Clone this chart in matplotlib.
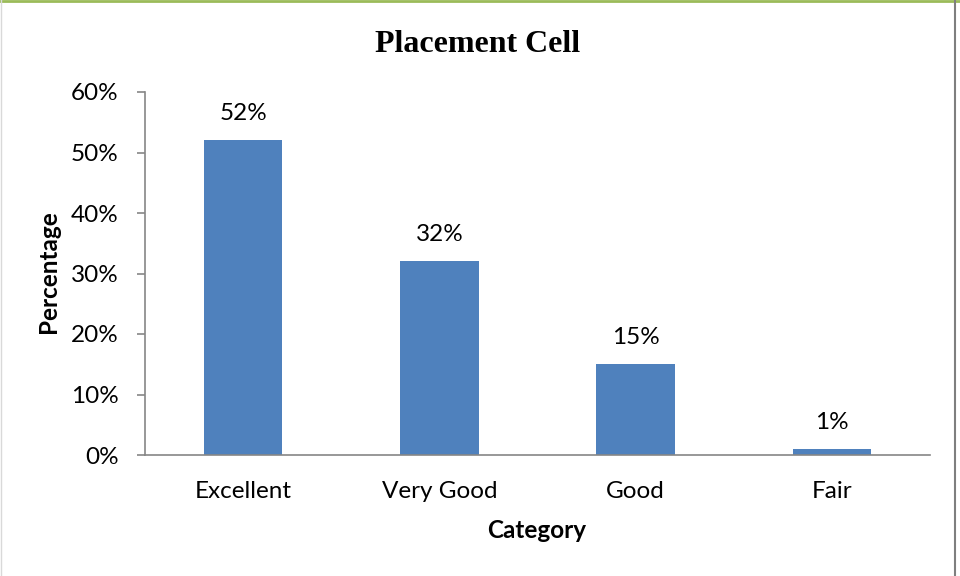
import matplotlib
matplotlib.use("Agg")
import matplotlib.pyplot as plt
from matplotlib.lines import Line2D

categories = ["Excellent", "Very Good", "Good", "Fair"]
values = [52, 32, 15, 1]
yticks = [0, 10, 20, 30, 40, 50, 60]
ytick_labels = [f"{v}%" for v in yticks]

FS = 17.5
fam = ["Lato", "DejaVu Sans"]

fig = plt.figure(figsize=(9.6, 5.76), dpi=100)
ax = fig.add_axes([145/960, 1-455/576, (930-145)/960, (455-92)/576])

x = list(range(len(categories)))
ax.bar(x, values, width=0.4, color="#4F81BD", zorder=2)
for xi, v in zip(x, values):
    ax.text(xi, v + 2.7, f"{v}%", ha="center", va="bottom", fontsize=FS,
            family=fam, color="black")

ax.set_xlim(-0.5, 3.5)
ax.set_ylim(0, 60)
ax.set_yticks(yticks)
ax.set_yticklabels(ytick_labels, fontsize=FS, family=fam)
ax.set_xticks(x)
ax.set_xticklabels(categories, fontsize=FS, family=fam)
ax.tick_params(axis="x", length=0, pad=19)
ax.tick_params(axis="y", length=6, width=1.2, color="#868686", pad=13)
for s in ["top", "right"]:
    ax.spines[s].set_visible(False)
for s in ["left", "bottom"]:
    ax.spines[s].set_color("#868686")
    ax.spines[s].set_linewidth(1.2)

fig.text(478/960, 1-45/576, "Placement Cell", ha="center", va="center",
         fontsize=23, fontweight="bold", family=["Liberation Serif", "DejaVu Serif"])
fig.text(48/960, 1-272/576, "Percentage", ha="center", va="center", rotation=90,
         fontsize=17.5, fontweight="bold", family=fam)
fig.text(537/960, 1-530/576, "Category", ha="center", va="center",
         fontsize=17.5, fontweight="bold", family=fam)

# outer border
fig.add_artist(Line2D([0, 1], [0.999, 0.999], transform=fig.transFigure, color="#9BBB59", lw=2))
fig.add_artist(Line2D([955/960, 955/960], [0, 1], transform=fig.transFigure, color="#7F7F7F", lw=1.5))
fig.add_artist(Line2D([0.001, 0.001], [0, 1], transform=fig.transFigure, color="#D9D9D9", lw=1))

fig.savefig("out.png", dpi=100)
